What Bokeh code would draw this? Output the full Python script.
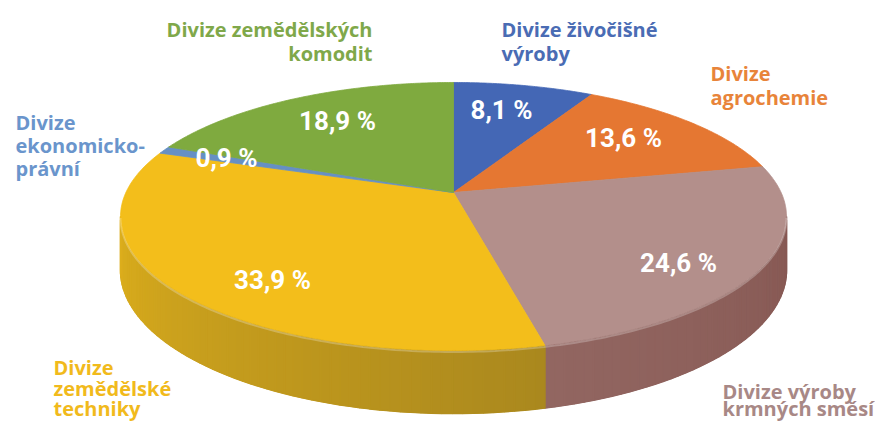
import numpy as np
from bokeh.plotting import figure
from bokeh.models import Range1d
from bokeh.embed import file_html
from bokeh.resources import INLINE
from bokeh.core.properties import value

# ---------------- data ----------------
divisions = [
    "Divize živočišné výroby",
    "Divize agrochemie",
    "Divize výroby krmných směsí",
    "Divize zemědělské techniky",
    "Divize ekonomicko-právní",
    "Divize zemědělských komodit",
]
shares = [8.1, 13.6, 24.6, 33.9, 0.9, 18.9]
share_texts = ["8,1 %", "13,6 %", "24,6 %", "33,9 %", "0,9 %", "18,9 %"]
name_lines = [
    ["Divize živočišné", "výroby"],
    ["Divize", "agrochemie"],
    ["Divize výroby", "krmných směsí"],
    ["Divize", "zemědělské", "techniky"],
    ["Divize", "ekonomicko-", "právní"],
    ["Divize zemědělských", "komodit"],
]

# ---------------- styles / layout ----------------
top_colors = ["#4467b5", "#e57732", "#b38f8b", "#f3be1b", "#6690c4", "#7faa3f"]
text_colors = ["#4a6cb4", "#e8843a", "#a88886", "#f1ba1c", "#6a95cc", "#7fa84a"]
side_left = {2: (0x92, 0x66, 0x61), 3: (0xdc, 0xae, 0x1c)}
side_right = {2: (0x86, 0x58, 0x53), 3: (0xaa, 0x88, 0x1e)}

# label anchors: x, centre of first line, align, line step
name_x = [501, 710, 722, 53, 15, 372]
name_y = [29, 73, 391, 367, 122, 29]
name_align = ["left", "left", "left", "left", "left", "right"]
name_step = [24, 24, 17, 20.5, 23, 24]
pct_x = [501, 623, 678, 272, 226, 337]
pct_y = [109, 137, 262, 279, 157, 120]

# perspective disc
CX, CY = 453.0, 192.0
SX, SY = 327.6, 129.7
K = 0.179
D0 = 51.7

W, H = 875, 424


def proj(theta_deg):
    t = np.radians(theta_deg)
    X, Z = np.sin(t), np.cos(t)
    den = 1 + K * Z
    return CX + SX * X / den, CY - SY * Z / den, D0 / den


def hexc(c):
    return "#%02x%02x%02x" % tuple(int(round(v)) for v in c)


p = figure(width=W, height=H, x_range=Range1d(0, W), y_range=Range1d(H, 0),
           output_backend="svg", toolbar_location=None,
           x_axis_type=None, y_axis_type=None, min_border=0)
p.outline_line_color = None
p.background_fill_color = "white"
p.border_fill_color = "white"

total = float(sum(shares))
bounds = np.concatenate([[0.0], np.cumsum(shares) / total * 360.0])

# ---------------- side (front wall) ----------------
t_right = np.degrees(np.arccos(-K))
t_left = 360.0 - t_right
bxs, bys, bcol = [], [], []
sxs, sys_, scol = [], [], []
for i in range(len(shares)):
    a0 = max(bounds[i], t_right)
    a1 = min(bounds[i + 1], t_left)
    if a1 <= a0 or i not in side_left:
        continue
    cl = np.array(side_left[i], float)
    cr = np.array(side_right[i], float)
    ts = np.linspace(a0, a1, 120)
    x, y, d = proj(ts)
    bxs.append(np.concatenate([x, x[::-1]]).tolist())
    bys.append(np.concatenate([y, (y + d)[::-1]]).tolist())
    bcol.append(hexc((cl + cr) / 2))
    n = max(2, int((a1 - a0) / 1.5))
    ts = np.linspace(a0, a1, n + 1)
    for j in range(n):
        ta, tb = ts[j], ts[j + 1]
        xa, ya, da = proj(ta)
        xb, yb, db = proj(tb)
        sxs.append([xa, xb, xb, xa])
        sys_.append([ya, yb, yb + db, ya + da])
        f = ((ta + tb) / 2 - a0) / (a1 - a0)
        scol.append(hexc(cr + (cl - cr) * f))
p.patches(bxs, bys, fill_color=bcol, line_color=bcol, line_width=1)
p.patches(sxs, sys_, fill_color=scol, line_color=scol, line_width=1.6)

# ---------------- top surface ----------------
txs, tys = [], []
for i in range(len(shares)):
    ts = np.linspace(bounds[i], bounds[i + 1], max(3, int((bounds[i + 1] - bounds[i]) / 0.5) + 1))
    x, y, _ = proj(ts)
    txs.append(np.concatenate([[CX], x]).tolist())
    tys.append(np.concatenate([[CY], y]).tolist())
p.patches(txs, tys, fill_color=top_colors, line_color=top_colors, line_width=0.8)

# rim highlight on the front edge
rt = np.linspace(t_right, t_left, 200)
rx, ry, _ = proj(rt)
p.line(rx, ry + 1.5, line_color="white", line_alpha=0.25, line_width=2)

# ---------------- percentage labels ----------------
p.text(pct_x, pct_y, text=share_texts, text_color="white",
       text_font=value("Roboto"), text_font_style="bold", text_font_size="26px",
       text_align="center", text_baseline="middle")

# ---------------- division names ----------------
for i, lines in enumerate(name_lines):
    ys = [name_y[i] + k * name_step[i] for k in range(len(lines))]
    p.text([name_x[i]] * len(lines), ys, text=lines, text_color=text_colors[i],
           text_font=value("Open Sans"), text_font_style="bold", text_font_size="20px",
           text_align=name_align[i], text_baseline="middle")

open("out.html", "w").write(file_html(p, INLINE))
